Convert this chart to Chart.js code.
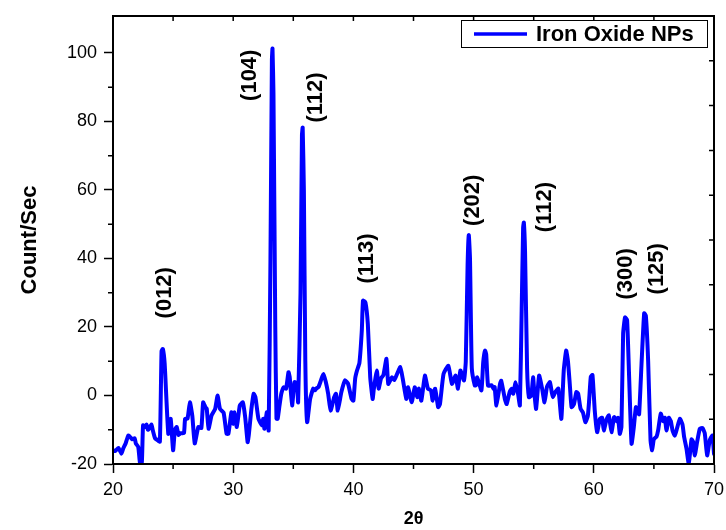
<!DOCTYPE html>
<html>
<head>
<meta charset="utf-8">
<script src="https://cdn.jsdelivr.net/npm/chart.js@4.4.0/dist/chart.umd.min.js"></script>
<style>
  html, body { margin: 0; padding: 0; background: #fff; }
  #wrap { width: 726px; height: 530px; }
</style>
</head>
<body>
<div id="wrap"><canvas id="xrd" width="726" height="530"></canvas></div>
<script>
// 2θ positions (deg)
const twoTheta = [
  20.0, 20.2, 20.45, 20.7, 20.85, 21.05, 21.27, 21.4, 21.6, 21.8, 21.9, 22.1, 22.25, 22.4, 22.5, 22.65, 22.8, 22.9,
  23.05, 23.2, 23.3, 23.5, 23.7, 23.9, 24.04, 24.15, 24.3, 24.6, 24.8, 25.0, 25.15, 25.3, 25.45, 25.6, 25.9, 26.0,
  26.2, 26.4, 26.6, 26.8, 27.1, 27.35, 27.5, 27.7, 27.8, 27.95, 28.2, 28.5, 28.7, 28.9, 29.2, 29.45, 29.6, 29.85,
  30.0, 30.1, 30.3, 30.55, 30.8, 31.0, 31.2, 31.3, 31.5, 31.7, 31.85, 32.1, 32.4, 32.5, 32.6, 32.8, 32.95,
  33.1, 33.22, 33.27, 33.35, 33.5, 33.6, 33.7, 33.85, 34.0, 34.2, 34.4, 34.6, 34.7, 34.9, 35.1, 35.3, 35.4,
  35.6, 35.72, 35.78, 35.88, 36.0, 36.15, 36.4, 36.65, 36.8, 36.9, 37.1, 37.3, 37.5, 37.7, 37.9, 38.1, 38.4,
  38.55, 38.7, 39.0, 39.3, 39.55, 39.85, 40.0, 40.15, 40.3, 40.5, 40.7, 40.8, 41.0, 41.2, 41.4, 41.6, 41.7,
  41.95, 42.1, 42.3, 42.5, 42.75, 42.9, 43.2, 43.4, 43.6, 43.9, 44.1, 44.4, 44.55, 44.85, 45.1, 45.3, 45.45,
  45.65, 45.95, 46.2, 46.45, 46.6, 46.8, 47.05, 47.2, 47.5, 47.9, 48.2, 48.5, 48.7, 48.9, 49.2, 49.35, 49.5,
  49.6, 49.7, 49.85, 50.1, 50.2, 50.3, 50.65, 50.8, 50.95, 51.05, 51.2, 51.5, 51.65, 51.75, 51.9, 52.2, 52.3,
  52.6, 52.75, 53.0, 53.15, 53.3, 53.5, 53.7, 53.85, 54.0, 54.12, 54.18, 54.28, 54.45, 54.6, 54.8, 54.95,
  55.05, 55.2, 55.45, 55.7, 55.9, 56.1, 56.35, 56.5, 56.6, 56.8, 57.05, 57.3, 57.5, 57.7, 57.85, 58.0, 58.15,
  58.35, 58.55, 58.7, 58.9, 59.1, 59.3, 59.5, 59.6, 59.75, 59.89, 60.08, 60.28, 60.5, 60.69, 60.83, 61.06,
  61.25, 61.47, 61.69, 61.89, 62.02, 62.16, 62.3, 62.44, 62.6, 62.77, 62.94, 63.14, 63.33, 63.5, 63.64, 63.77,
  63.97, 64.19, 64.33, 64.52, 64.72, 64.85, 64.99, 65.22, 65.35, 65.57, 65.77, 65.91, 66.05, 66.24, 66.41,
  66.55, 66.74, 66.93, 67.16, 67.38, 67.51, 67.71, 67.9, 68.13, 68.26, 68.4, 68.6, 68.82, 69.04, 69.23, 69.43,
  69.65, 69.87, 70.0
];

// intensity (Count/Sec) at each 2θ
const counts = [
  -16, -16.2, -15.3, -17, -15.5, -14, -11.7, -12, -12.8, -12.5, -14, -15, -19.8, -19.5, -8.7, -9.2, -8.5, -10,
  -9.5, -8.5, -10, -12.5, -13, -13.5, 13, 13.6, 9.2, -11.2, -6.8, -16, -10, -9.2, -11.5, -11, -11, -6.8,
  -6.8, -2, -6, -14, -9.2, -9.5, -2, -3.5, -3.9, -9.7, -5.8, -3.9, 0, -3.9, -5, -11.2, -11.2, -4.9,
  -8.3, -4.9, -9.2, -2.9, -2, -6.4, -13.6, -11.5, -4.4, 0.5, -0.5, -6.8, -8.7, -6.8, -9.7, -4.9, -10.2,
  40, 98, 101.3, 88, 20, -6.8, -6.8, -3, 0.5, 2.4, 2, 6.8, 5.4, -2.9, 3.9, 3.5, -2,
  30, 76, 78.2, 60, 10, -7.8, -1, 2, 1.5, 2, 2.5, 4.4, 6.3, 4, 0.5, -4.4, -0.5,
  0.5, -4.4, 1, 4.4, 3.5, -1, -1.5, 5, 7.3, 9.5, 19, 27.7, 27.2, 20.9, 5.3, -1, 1.9,
  7.3, 2, 5, 6, 10.7, 3.4, 5.3, 4.5, 6, 8.3, 5, -1, 2.4, -2, 2.4, -0.5, 2,
  -1.5, 5.8, 2, 1.5, -1.5, 2, -3.4, -2.5, 6.3, 8.7, 3.4, 5.8, 2, 7.3, 4.4, 10, 38,
  46.8, 40, 8, 2.9, 3, 5.3, 1.5, 9.7, 13.1, 12, 2.9, 3, 2, 2.5, -2.9, 3.4, 4.3,
  -1, -2.5, 1, 2, 0.5, 3.9, 0.5, -2.9, 25, 49, 50.5, 42, 8, -0.5, 0, 5.3,
  1, -3.9, 5.8, 2, -2, 2.5, 3.9, 1, -0.5, 1, 2, -6.8, 7.3, 13.1, 10, 3.4, -3.4,
  -2.5, 1, 0.5, -3.9, -5, -7.8, -6, -2, 5.5, 6, -4.4, -10.7, -6.8, -6.5, -10.2, -7,
  -5.8, -10.7, -6.3, -7.5, -6.5, -11.2, -9.2, 18, 22.8, 22, 5.3, -14.1, -9.2, -3.4, -4.5, -5.5,
  9.2, 24, 23.3, 10.2, -13.1, -16, -12.8, -12, -10.2, -5.3, -7.5, -6.5, -10.2, -6.5, -7.5,
  -10.2, -11.7, -9.5, -6.8, -8.5, -12, -15.5, -19.9, -12.8, -13.5, -17.5, -13.5, -9.7, -9.5, -11, -17.5,
  -13, -11.7, -17
];

// Miller indices over the reflections (label centre, data units)
const peakLabels = ['(012)', '(104)', '(112)', '(113)', '(202)', '(112)', '(300)', '(125)'];
const peakLabelX = [24.33, 31.4, 36.9, 41.1, 49.95, 55.9, 62.7, 65.25];
const peakLabelY = [30, 93.5, 87, 40, 57, 55, 35.5, 37];

// minor ticks
const xMinorTicks = [25, 35, 45, 55, 65];
const yMinorTicks = [-10, 10, 30, 50, 70, 90];

const FONT = "'Liberation Sans', Arial, sans-serif";

// frame, minor / mirror ticks, hkl labels and boxed legend
const framePlugin = {
  id: 'frame',
  afterDatasetsDraw(chart) {
    const { ctx, chartArea: a, scales } = chart;
    const x = scales.x, y = scales.y;
    ctx.save();
    ctx.strokeStyle = '#000';
    ctx.lineWidth = 2;
    ctx.strokeRect(a.left, a.top, a.right - a.left, a.bottom - a.top);

    ctx.lineWidth = 1.5;
    ctx.beginPath();
    xMinorTicks.forEach(v => {
      const px = x.getPixelForValue(v);
      ctx.moveTo(px, a.bottom); ctx.lineTo(px, a.bottom + 5);
    });
    yMinorTicks.forEach(v => {
      const py = y.getPixelForValue(v);
      ctx.moveTo(a.left, py); ctx.lineTo(a.left - 5, py);
    });
    // top / right axes: inward ticks, ten divisions
    for (let k = 1; k < 10; k++) {
      const px = x.getPixelForValue(x.min + k * (x.max - x.min) / 10);
      ctx.moveTo(px, a.top); ctx.lineTo(px, a.top + 5);
      const py = y.getPixelForValue(y.min + k * (y.max - y.min) / 10);
      ctx.moveTo(a.right, py); ctx.lineTo(a.right - 5, py);
    }
    ctx.stroke();

    // hkl labels
    ctx.fillStyle = '#000';
    ctx.font = 'bold 22px ' + FONT;
    ctx.textAlign = 'center';
    ctx.textBaseline = 'middle';
    peakLabels.forEach((t, i) => {
      ctx.save();
      ctx.translate(x.getPixelForValue(peakLabelX[i]), y.getPixelForValue(peakLabelY[i]));
      ctx.rotate(-Math.PI / 2);
      ctx.fillText(t, 0, 0);
      ctx.restore();
    });

    // legend box
    const ds = chart.data.datasets[0];
    const bw = 246, bh = 27;
    const bx = a.right - 7 - bw, by = a.top + 4;
    ctx.fillStyle = '#fff';
    ctx.fillRect(bx, by, bw, bh);
    ctx.strokeStyle = '#000';
    ctx.lineWidth = 1;
    ctx.strokeRect(bx + 0.5, by + 0.5, bw, bh);
    ctx.strokeStyle = ds.borderColor;
    ctx.lineWidth = 3.5;
    ctx.beginPath();
    ctx.moveTo(bx + 13, by + bh / 2 + 0.5);
    ctx.lineTo(bx + 66, by + bh / 2 + 0.5);
    ctx.stroke();
    ctx.fillStyle = '#000';
    ctx.font = 'bold 22px ' + FONT;
    ctx.textAlign = 'left';
    ctx.fillText(ds.label, bx + 75, by + bh / 2 + 1);
    ctx.restore();
  }
};

const ctx = document.getElementById('xrd').getContext('2d');
new Chart(ctx, {
  type: 'line',
  data: {
    datasets: [{
      label: 'Iron Oxide NPs',
      data: twoTheta.map((t, i) => ({ x: t, y: counts[i] })),
      borderColor: '#0000ff',
      borderWidth: 4,
      borderJoinStyle: 'round',
      borderCapStyle: 'round',
      pointRadius: 0,
      tension: 0.15,
      fill: false
    }]
  },
  options: {
    responsive: false,
    animation: false,
    layout: { padding: { top: 16, right: 12, left: 0, bottom: 0 } },
    plugins: { legend: { display: false }, tooltip: { enabled: false } },
    scales: {
      x: {
        type: 'linear', min: 20, max: 70,
        ticks: { stepSize: 10, color: '#000', font: { family: FONT, size: 18 }, padding: 6, maxRotation: 0 },
        grid: { display: true, drawOnChartArea: false, tickLength: 9, tickWidth: 1.5, tickColor: '#000' },
        border: { display: true, color: '#000', width: 2 },
        title: { display: true, text: '2θ', color: '#000', font: { family: FONT, size: 18, weight: 'bold' }, padding: { top: 0, bottom: 0 } },
        afterFit: s => { s.height = 66; s.paddingLeft = 0; s.paddingRight = 0; }
      },
      y: {
        type: 'linear', min: -20, max: 110.8,
        ticks: { stepSize: 20, includeBounds: false, color: '#000', font: { family: FONT, size: 18 }, padding: 7 },
        grid: { display: true, drawOnChartArea: false, tickLength: 9, tickWidth: 1.5, tickColor: '#000' },
        border: { display: true, color: '#000', width: 2 },
        title: { display: true, text: 'Count/Sec', color: '#000', font: { family: FONT, size: 22, weight: 'bold' }, padding: { top: 17, bottom: 0 } },
        afterFit: s => { s.width = 113; s.paddingTop = 0; s.paddingBottom = 0; }
      }
    }
  },
  plugins: [framePlugin]
});
</script>
</body>
</html>
